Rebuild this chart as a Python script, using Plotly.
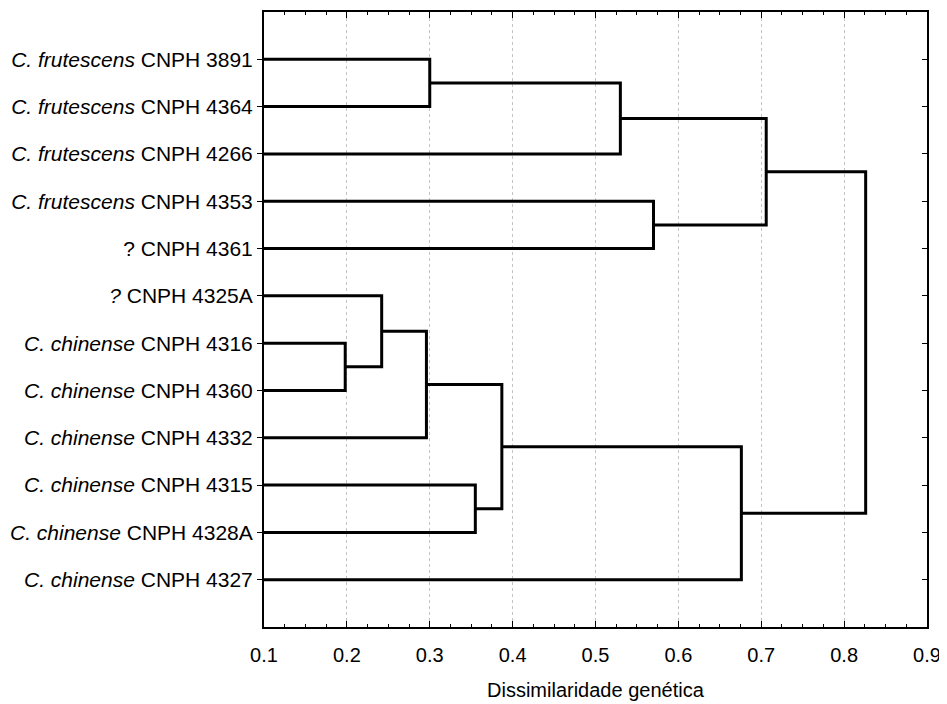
import plotly.graph_objects as go

# ---- data ----
leaf_labels = [
    "<i>C. frutescens</i> CNPH 3891",
    "<i>C. frutescens</i> CNPH 4364",
    "<i>C. frutescens</i> CNPH 4266",
    "<i>C. frutescens</i> CNPH 4353",
    "? CNPH 4361",
    "<i>?</i> CNPH 4325A",
    "<i>C. chinense</i> CNPH 4316",
    "<i>C. chinense</i> CNPH 4360",
    "<i>C. chinense</i> CNPH 4332",
    "<i>C. chinense</i> CNPH 4315",
    "<i>C. chinense</i> CNPH 4328A",
    "<i>C. chinense</i> CNPH 4327",
]
# merges: new cluster ids start at 12, in this order
merge_left = [0, 12, 3, 13, 6, 5, 17, 9, 18, 20, 15]
merge_right = [1, 2, 4, 14, 7, 16, 8, 10, 19, 11, 21]
merge_height = [0.300, 0.530, 0.570, 0.706, 0.198, 0.242, 0.296, 0.355, 0.387, 0.676, 0.826]
base_height = 0.1
x_ticks = [0.1, 0.2, 0.3, 0.4, 0.5, 0.6, 0.7, 0.8, 0.9]
x_title = "Dissimilaridade genética"

# ---- build dendrogram segments ----
n = len(leaf_labels)
pos_y = {i: i + 1 for i in range(n)}
pos_h = {i: base_height for i in range(n)}
xs, ys = [], []
for k, (a, b, h) in enumerate(zip(merge_left, merge_right, merge_height)):
    cid = n + k
    xs += [pos_h[a], h, h, pos_h[b], None]
    ys += [pos_y[a], pos_y[a], pos_y[b], pos_y[b], None]
    pos_y[cid] = (pos_y[a] + pos_y[b]) / 2
    pos_h[cid] = h

FONT = "Liberation Sans, Arial, sans-serif"

fig = go.Figure()
fig.add_trace(go.Scatter(x=xs, y=ys, mode="lines",
                         line=dict(color="black", width=3),
                         hoverinfo="skip", showlegend=False))
fig.add_trace(go.Scatter(x=[None], y=[None], yaxis="y2", showlegend=False))

fig.update_layout(
    width=947, height=704,
    margin=dict(l=254, r=28, t=2, b=85),
    paper_bgcolor="white", plot_bgcolor="white",
    font=dict(family=FONT, size=20, color="black"),
    xaxis=dict(
        range=[0.1, 0.9], tickvals=x_ticks,
        ticktext=[f"{v:.1f}" for v in x_ticks],
        ticks="inside", ticklen=6, tickwidth=1, tickcolor="black",
        minor=dict(dtick=0.025, tick0=0.1, ticks="inside", ticklen=3,
                   tickcolor="black", showgrid=False),
        showline=True, linecolor="black", linewidth=2, mirror="ticks",
        showgrid=True, gridcolor="#c4c4c4", griddash="dot", gridwidth=1,
        zeroline=False, ticklabelstandoff=9,
        tickfont=dict(size=20, family=FONT),
    ),
    yaxis=dict(
        range=[13, 0], tickvals=list(range(1, n + 1)), ticktext=leaf_labels,
        ticks="outside", ticklen=5, tickcolor="black",
        showline=True, linecolor="black", linewidth=2,
        showgrid=False, zeroline=False,
        tickfont=dict(size=21, family=FONT),
    ),
    yaxis2=dict(
        range=[13, 0], tickvals=list(range(1, n + 1)), overlaying="y",
        side="right", ticks="inside", ticklen=5, tickcolor="black",
        showticklabels=False, showline=True, linecolor="black", linewidth=2,
        showgrid=False, zeroline=False,
    ),
    annotations=[dict(
        text=x_title, xref="paper", yref="paper", x=0.5, y=-0.102,
        xanchor="center", yanchor="middle", showarrow=False,
        font=dict(size=20, family=FONT, color="black"),
    )],
)

fig.write_html("out.html")
